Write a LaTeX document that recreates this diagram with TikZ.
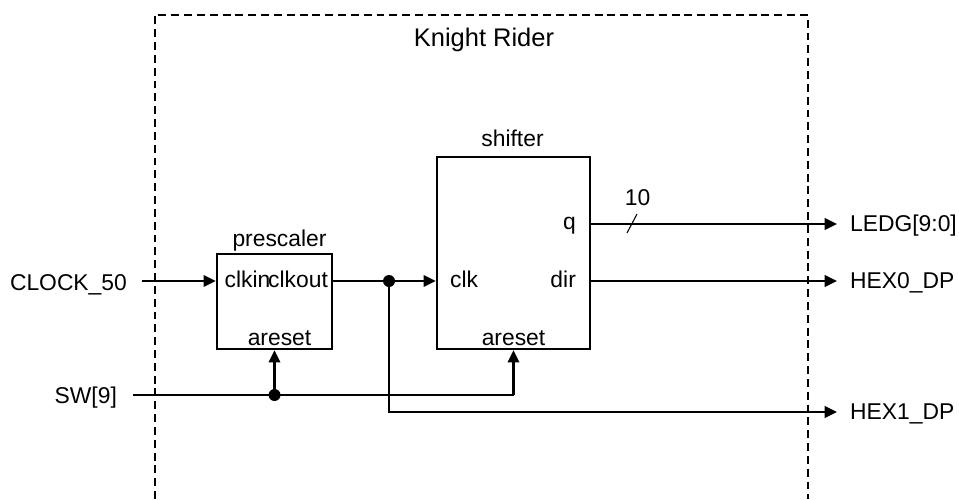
\documentclass[tikz,border=0pt]{standalone}
\usepackage{fontspec}
\setmainfont{Liberation Sans}
\usetikzlibrary{arrows.meta,positioning}

\begin{document}
\begin{tikzpicture}[font=\fontsize{13}{15}\selectfont,
  line width=1.3pt,
  blk/.style={draw, line width=1.3pt, inner sep=0pt},
  port/.style={inner sep=0pt},
  sig/.style={-{Triangle[length=7pt,width=6.5pt]}},
  jdot/.style={fill, circle, inner sep=0pt, minimum size=2.4mm},
]
\useasboundingbox (0,0) rectangle (19.18,9.98);
% enclosing entity
\draw[line width=1.4pt, dash pattern=on 4.5pt off 2.8pt] (3.10,0) -- (3.10,9.68) -- (16.16,9.68) -- (16.16,0);
\node[font=\fontsize{14.5}{16}\selectfont, anchor=base] (title) at (9.68,9.04) {Knight Rider};

% prescaler
\node[blk, minimum width=2.30cm, minimum height=1.90cm] (presc) at (5.49,3.95) {};
\node[port, anchor=base] (presclbl) at (5.59,5.06) {prescaler};
\node[port, anchor=base west] (pclkin) at (4.47,4.24) {clkin};
\node[port, anchor=base east] (pclkout) at (6.58,4.24) {clkout};
\node[port, anchor=base] (parst) at (5.59,3.07) {areset};

% shifter
\node[blk, minimum width=3.06cm, minimum height=3.84cm] (shft) at (10.27,4.92) {};
\node[port, anchor=base] (shftlbl) at (10.25,7.06) {shifter};
\node[port, anchor=base west] (sclk) at (8.98,4.24) {clk};
\node[port, anchor=base east] (sdir) at (11.54,4.24) {dir};
\node[port, anchor=base east] (sq) at (11.54,5.40) {q};
\node[port, anchor=base] (sarst) at (10.27,3.08) {areset};

% pins
\node[port, anchor=base east] (clock) at (2.56,4.18) {CLOCK\_50};
\node[port, anchor=base east] (sw) at (2.36,1.92) {SW[9]};
\node[port, anchor=base west] (ledg) at (16.98,5.36) {LEDG[9:0]};
\node[port, anchor=base west] (hex0) at (16.98,4.22) {HEX0\_DP};
\node[port, anchor=base west] (hex1) at (16.98,1.60) {HEX1\_DP};

\coordinate (clockend) at (2.84,4.36);
\coordinate (swend) at (2.66,2.08);
\coordinate (ledgend) at (16.74,5.50);
\coordinate (hex0end) at (16.74,4.36);
\coordinate (hex1end) at (16.74,1.74);
\coordinate (swturn) at (10.27,2.08);
\node[jdot] (j1) at (7.78,4.36) {};
\node[jdot] (j2) at (5.49,2.08) {};

% connections
\draw[sig] (clockend) -- (clockend -| presc.west);
\draw (clockend -| presc.east) -- (j1.center);
\draw[sig] (j1.center) -- (j1 -| shft.west);
\draw[sig] (j1.center) |- (hex1end);
\draw (swend) -- (swturn);
\draw[sig] (swturn) -- (shft.south);
\draw[sig] (j2.center) -- (presc.south);
\draw[sig] (ledgend -| shft.east) -- (ledgend);
\draw[sig] (hex0end -| shft.east) -- (hex0end);

% bus width
\draw[line width=0.6pt] (12.54,5.32) -- (12.74,5.70);
\node[port, anchor=base] (bw) at (12.75,5.88) {10};
\end{tikzpicture}
\end{document}
